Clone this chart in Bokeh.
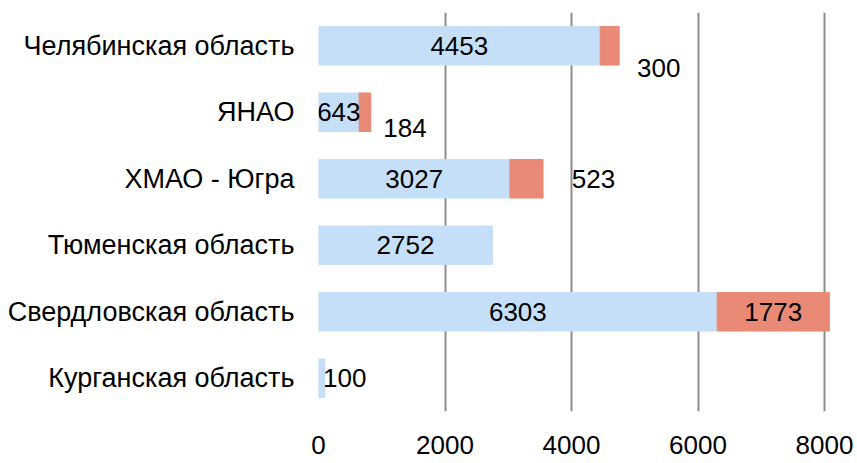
from bokeh.plotting import figure
from bokeh.models import ColumnDataSource, FactorRange, Range1d, FixedTicker
from bokeh.embed import file_html
from bokeh.resources import INLINE
from bokeh.core.properties import value

categories = ["Курганская область", "Свердловская область", "Тюменская область",
              "ХМАО - Югра", "ЯНАО", "Челябинская область"]
series1 = [100, 6303, 2752, 3027, 643, 4453]
series2 = [0, 1773, 0, 523, 184, 300]
x_ticks = [0, 2000, 4000, 6000, 8000]

c1 = "#C6DFF8"
c2 = "#E88A75"
FONT = "Liberation Sans"

p = figure(width=857, height=463, output_backend="svg", toolbar_location=None,
           y_range=FactorRange(factors=categories, range_padding=0),
           x_range=Range1d(0, 8221),
           min_border_left=318, min_border_right=19, min_border_top=12, min_border_bottom=52)
p.outline_line_color = None

src = ColumnDataSource(dict(cat=categories, s1=series1))
p.hbar(y="cat", left=0, right="s1", height=0.58, color=c1, source=src)

idx = [i for i, v in enumerate(series2) if v > 0]
src_b = ColumnDataSource(dict(
    cat=[categories[i] for i in idx],
    l=[series1[i] for i in idx],
    r=[series1[i] + series2[i] for i in idx]))
p.hbar(y="cat", left="l", right="r", height=0.58, color=c2, source=src_b)

# labels series 1
lab1_xoff = [23, 0, 0, 0, 0, 0]
lab1_yoff = [0, 0, 0, 0, 0, 0]
src1 = ColumnDataSource(dict(y=categories, x=[v / 2 for v in series1],
                             t=[str(v) for v in series1], xo=lab1_xoff, yo=lab1_yoff))
p.text(x="x", y="y", text="t", x_offset="xo", y_offset="yo", source=src1,
       text_align="center", text_baseline="middle", text_font=value(FONT),
       text_font_size="26px", text_color="#000000")

# labels series 2
lab2_xoff_all = [0, 0, 0, 67, 40, 49]
lab2_yoff_all = [0, 0, 0, 0, 16, 22]
src2 = ColumnDataSource(dict(
    y=[categories[i] for i in idx],
    x=[series1[i] + series2[i] / 2 for i in idx],
    t=[str(series2[i]) for i in idx],
    xo=[lab2_xoff_all[i] for i in idx],
    yo=[lab2_yoff_all[i] for i in idx]))
p.text(x="x", y="y", text="t", x_offset="xo", y_offset="yo", source=src2,
       text_align="center", text_baseline="middle", text_font=value(FONT),
       text_font_size="26px", text_color="#000000")

p.xaxis.ticker = FixedTicker(ticks=x_ticks)
p.xaxis.axis_line_color = None
p.xaxis.major_tick_line_color = None
p.xaxis.minor_tick_line_color = None
p.xaxis.major_label_text_font = FONT
p.xaxis.major_label_text_font_size = "26px"
p.xaxis.major_label_text_color = "#000000"
p.xaxis.major_label_standoff = 18

p.yaxis.axis_line_color = None
p.yaxis.major_tick_line_color = None
p.yaxis.minor_tick_line_color = None
p.yaxis.major_label_text_font = FONT
p.yaxis.major_label_text_font_size = "27px"
p.yaxis.major_label_text_color = "#000000"
p.yaxis.major_label_standoff = 18

p.ygrid.grid_line_color = None
p.xgrid.ticker = FixedTicker(ticks=x_ticks)
p.xgrid.grid_line_color = "#8C8C8C"
p.xgrid.grid_line_width = 2
p.xgrid.level = "underlay"

open("out.html", "w").write(file_html(p, INLINE))
